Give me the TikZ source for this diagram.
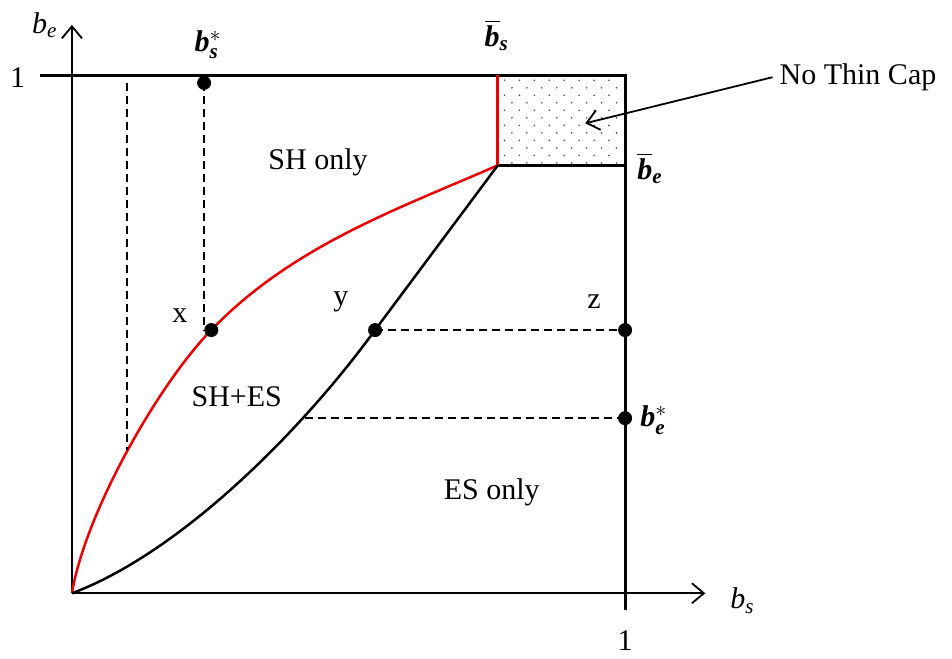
\documentclass[tikz,border=0pt]{standalone}
\usepackage{amsmath}
\usepackage{fontspec}
\setmainfont{Liberation Serif}
\usetikzlibrary{arrows.meta, math}
\definecolor{capred}{RGB}{235,0,0}

\begin{document}
\begin{tikzpicture}[x=276.5pt, y=259pt, font=\fontsize{15}{18}\selectfont,
  axis/.style={line width=0.9pt, -{Straight Barb[length=6pt,width=10pt]}},
  frame/.style={line width=1.5pt},
  guide/.style={line width=0.8pt, dash pattern=on 4pt off 2.5pt},
  pt/.style={fill, circle, inner sep=0pt, minimum size=7pt}]

\tikzmath{
\sbar = 0.770; % \bar b_s
\ebar = 0.826; % \bar b_e
\sstar = 0.239; % b_s^*
\estar = 0.338; % b_e^*
\ylev = 0.508; % level of x, y, z
}

\useasboundingbox (-0.130,-0.125) rectangle (1.591,1.145);

% dotted region
\foreach \i in {0,...,7}{
  \foreach \j in {0,...,11}{
    \tikzmath{
      \px = \sbar+0.012+\i*0.027+mod(\j,2)*0.0135;
      \py = 1-0.01-\j*0.0145;
    }
    \fill[black!70] (\px,\py) circle (0.45pt);
  }
}

% axes
\coordinate (O) at (0,0);
\coordinate (corner) at (\sbar,\ebar);
\draw[axis] (O) -- (1.145,0);
\draw[axis] (O) -- (0,1.097);
\draw[frame] (-0.058,1) -- (1,1) -- (1,-0.033);
\draw[frame] (corner) -- (1,\ebar);
\draw[capred, line width=1.5pt] (\sbar,1) -- (corner);

% points
\coordinate (sdot) at (\sstar,0.985);
\coordinate (x) at (0.252,\ylev);
\coordinate (y) at (0.548,\ylev);
\coordinate (z) at (1,\ylev);
\coordinate (edot) at (1,\estar);

% boundaries
\draw[capred, line width=1.25pt] (O) .. controls (0.025,0.16) and (0.16,0.408) .. (x)
  .. controls (0.40,0.673) and (0.60,0.746) .. (corner);
\draw[line width=1.25pt] (O) .. controls (0.2,0.08) and (0.42,0.32) .. (y) -- (corner);

\draw[guide] (0.0995,0.985) -- (0.0995,0.276);
\draw[guide] (sdot) -- (\sstar,\ylev);
\draw[guide] (y) -- (z);
\draw[guide] (0.421,\estar) -- (edot);

\foreach \p in {sdot,x,y,z,edot}
  \node[pt] at (\p) {};

% labels
\node (be) at (-0.049,1.097) {\textit{b}\textsubscript{\textit{e}}};
\node (bs) at (1.212,-0.014) {\textit{b}\textsubscript{\textit{s}}};
\node (one1) at (-0.098,0.996) {1};
\node (one2) at (1,-0.091) {1};
\node (bsstar) at (0.246,1.058) {\textbf{\textit{b}}$^{*}_{\text{\textbf{\textit{s}}}}$};
\node (bestar) at (1.052,0.334) {\textbf{\textit{b}}$^{*}_{\text{\textbf{\textit{e}}}}$};
\node (bsbar) at (0.768,1.077) {$\overline{\mbox{\textbf{\textit{b}}}}$\textsubscript{\textbf{\textit{s}}}};
\node (bebar) at (1.045,0.82) {$\overline{\mbox{\textbf{\textit{b}}}}$\textsubscript{\textbf{\textit{e}}}};
\node (shonly) at (0.445,0.832) {SH only};
\node (shes) at (0.298,0.380) {SH+ES};
\node (esonly) at (0.759,0.195) {ES only};
\node (xl) at (0.195,0.535) {x};
\node (yl) at (0.486,0.562) {y};
\node (zl) at (0.944,0.562) {z};

\node (cap) at (1.421,0.996) {No Thin Cap};
\coordinate (captip) at (0.928,0.907);
\draw[line width=0.9pt, -{Straight Barb[length=6pt,width=10pt]}] (cap.west) -- (captip);

\end{tikzpicture}
\end{document}
